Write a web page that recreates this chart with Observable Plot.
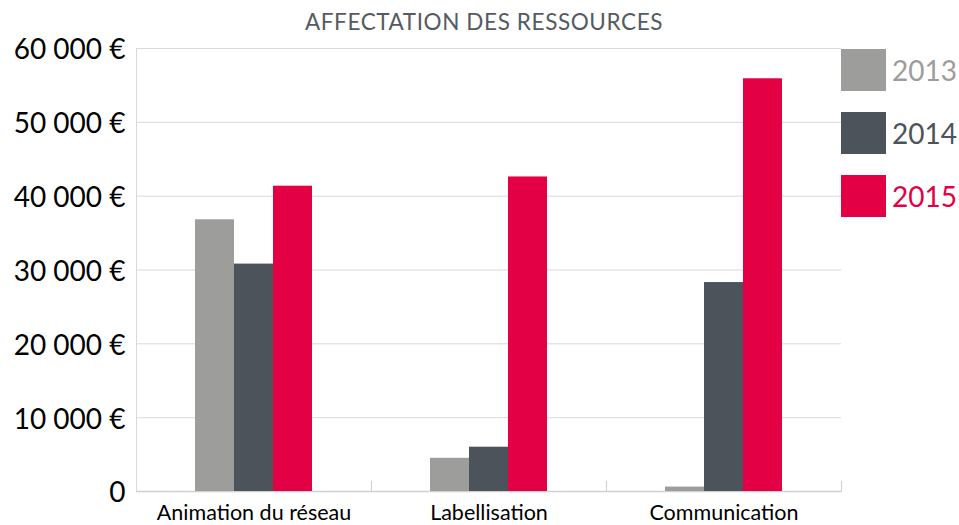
<!DOCTYPE html>
<html>
<head>
<meta charset="utf-8">
<script src="https://cdn.jsdelivr.net/npm/d3@7"></script>
<script src="https://cdn.jsdelivr.net/npm/@observablehq/plot@0.6"></script>
<style>
  html, body { margin: 0; padding: 0; background: #fff; }
  #wrap { position: relative; width: 959px; height: 525px; overflow: hidden; font-family: Lato, sans-serif; }
  #title { position: absolute; left: 0; width: 968px; top: 8px; text-align: center; font-size: 22.5px; color: #555b62; letter-spacing: 0.6px; }
  .leg { position: absolute; left: 841px; height: 42px; display: flex; align-items: center; }
  .leg .sw { width: 45px; height: 42px; }
  .leg .lb { margin-left: 6px; font-size: 28px; }
</style>
</head>
<body>
<div id="wrap">
  <div id="chart"></div>
  <div id="title">AFFECTATION DES RESSOURCES</div>
  <div id="legend"></div>
</div>
<script>
const categories = ["Animation du réseau", "Labellisation", "Communication"];
const years = ["2013", "2014", "2015"];
const values2013 = [36800, 4500, 600];
const values2014 = [30800, 6000, 28300];
const values2015 = [41350, 42600, 55900];
const yTicks = [0, 10000, 20000, 30000, 40000, 50000, 60000];
const colors = ["#9d9d9b", "#4d535b", "#e30045"];

const series = [values2013, values2014, values2015];
const data = categories.flatMap((c, i) => years.map((y, j) => ({category: c, year: y, value: series[j][i]})));

const loc = d3.formatLocale({decimal: ",", thousands: "\u00a0", grouping: [3], currency: ["", " €"]});
const fmt = d => d === 0 ? "0" : loc.format(",")(d) + " €";

const chart = Plot.plot({
  width: 959,
  height: 525,
  marginLeft: 136,
  marginRight: 118,
  marginTop: 48,
  marginBottom: 34,
  style: {fontFamily: "Lato, sans-serif", background: "transparent", color: "#000"},
  fx: {domain: categories, padding: 0, label: null},
  x: {domain: years, paddingInner: 0, paddingOuter: 1.5, axis: null},
  y: {domain: [0, 60000], label: null},
  color: {domain: years, range: colors},
  marks: [
    Plot.gridY(yTicks, {stroke: "#d9d9d9", strokeOpacity: 1}),
    Plot.frame({anchor: "left", facetAnchor: "left", stroke: "#d9d9d9"}),
    Plot.frame({anchor: "right", stroke: "#d0d0d0", insetTop: 433}),
    Plot.ruleY([0], {stroke: "#d0d0d0", strokeWidth: 1.5}),
    Plot.barY(data, {fx: "category", x: "year", y: "value", fill: "year"}),
    Plot.axisY(yTicks, {tickSize: 0, tickPadding: 11, fontSize: 28, tickFormat: fmt, dy: 2, label: null}),
    Plot.axisFx({anchor: "bottom", tickSize: 0, tickPadding: 13, fontSize: 21.5, label: null})
  ]
});
document.getElementById("chart").appendChild(chart);

const legend = document.getElementById("legend");
years.forEach((y, i) => {
  const row = document.createElement("div");
  row.className = "leg";
  row.style.top = (49 + i * 63) + "px";
  row.innerHTML = `<div class="sw" style="background:${colors[i]}"></div><div class="lb" style="color:${colors[i]}">${y}</div>`;
  legend.appendChild(row);
});
</script>
</body>
</html>
